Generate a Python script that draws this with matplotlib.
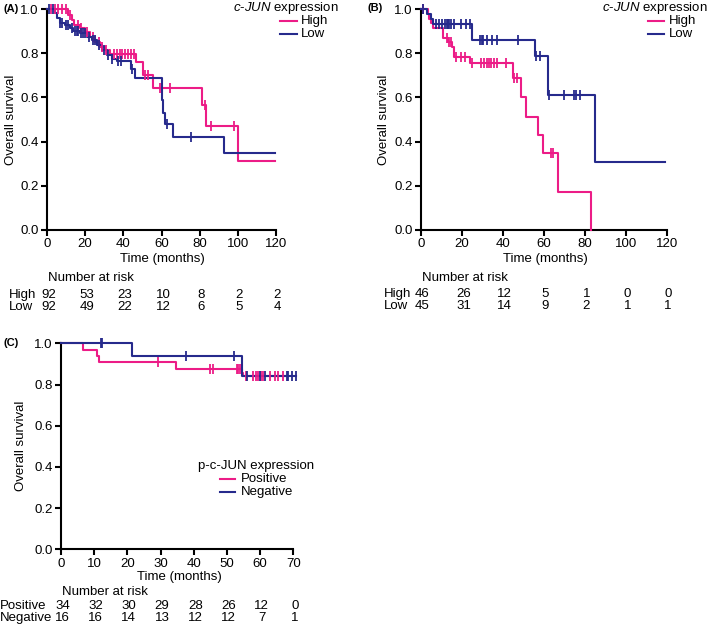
import numpy as np
import matplotlib
matplotlib.use("Agg")
import matplotlib.pyplot as plt
from matplotlib.lines import Line2D
from matplotlib import transforms

plt.rcParams['font.family'] = ['Liberation Sans', 'DejaVu Sans']
plt.rcParams['mathtext.fontset'] = 'custom'
plt.rcParams['mathtext.it'] = 'Liberation Sans:italic'
plt.rcParams['mathtext.rm'] = 'Liberation Sans'

PINK = '#EC1C87'
BLUE = '#262A8C'
FS = 9.5

# ---- Panel A: c-JUN expression (High / Low) ----
a_high_t = [0, 11.2, 12.9, 14.1, 17.3, 19.9, 22.5, 25.1, 27.8, 30.4, 33.0, 46.6, 50.4, 55.4, 81.0, 83.2, 100.0, 119.5]
a_high_s = [1.0, 0.973, 0.95, 0.927, 0.912, 0.897, 0.874, 0.85, 0.827, 0.814, 0.795, 0.76, 0.70, 0.644, 0.564, 0.47, 0.31, 0.31]
a_high_c = [2, 4, 6, 8, 10, 12, 16, 18, 21, 24, 27, 29, 31, 35, 36.5, 38, 39.5, 41, 42.5, 44, 45.5,
            51.5, 53, 59, 64.5, 82.7, 86, 98]
a_low_t = [0, 4.2, 5.4, 6.8, 9.4, 12.0, 13.8, 17.3, 20.8, 23.4, 26.0, 28.6, 31.2, 33.9, 36.5, 43.8, 46.0, 60.0, 61.0, 62.0, 65.8, 92.6, 119.5]
a_low_s = [1.0, 0.98, 0.96, 0.936, 0.927, 0.915, 0.9, 0.89, 0.874, 0.86, 0.836, 0.814, 0.79, 0.776, 0.764, 0.73, 0.69, 0.586, 0.53, 0.48, 0.42, 0.35, 0.35]
a_low_c = [1, 3, 7, 8, 10, 11, 13, 14.5, 15.5, 16.5, 18, 19, 20, 22, 24, 25, 27, 30, 32, 34, 37, 39, 44.5, 63, 75.7]
a_months = [0, 20, 40, 60, 80, 100, 120]
a_risk_high = [92, 53, 23, 10, 8, 2, 2]
a_risk_low = [92, 49, 22, 12, 6, 5, 4]

# ---- Panel B: c-JUN expression (High / Low) ----
b_high_t = [0, 3.2, 3.9, 4.9, 6.0, 10.9, 13.3, 14.9, 16.2, 23.9, 45.0, 48.8, 51.2, 57.2, 59.7, 67.0, 82.9, 83.2]
b_high_s = [1.0, 0.978, 0.957, 0.935, 0.913, 0.867, 0.852, 0.83, 0.781, 0.754, 0.686, 0.60, 0.513, 0.43, 0.347, 0.173, 0.0, 0.0]
b_high_c = [1, 12.5, 13.8, 14.5, 17.3, 19.4, 21.4, 25.1, 29.1, 30.8, 32.1, 33.2, 34.4, 35.7, 37.0, 41.3, 45.6, 46.7, 63.4, 64.5]
b_low_t = [0, 2.8, 4.9, 6.0, 24.7, 55.6, 61.8, 85.2, 119.0]
b_low_s = [1.0, 0.978, 0.956, 0.933, 0.859, 0.786, 0.612, 0.308, 0.308]
b_low_c = [1, 7.5, 9, 10.5, 11.5, 12.5, 13, 13.5, 14.5, 16, 19.5, 22, 24, 28.8, 29.6, 30.2, 32, 34.5, 36.9, 47.3,
           56.4, 58, 62.4, 69.8, 74.6, 75.9, 77.6]
b_months = [0, 20, 40, 60, 80, 100, 120]
b_risk_high = [46, 26, 12, 5, 1, 0, 0]
b_risk_low = [45, 31, 14, 9, 2, 1, 1]

# ---- Panel C: p-c-JUN expression (Positive / Negative) ----
c_pos_t = [0, 6.5, 10.7, 11.4, 34.8, 54.6, 54.9, 67.5]
c_pos_s = [1.0, 0.967, 0.94, 0.908, 0.875, 0.854, 0.843, 0.843]
c_pos_c = [29.3, 45.0, 45.7, 52.9, 53.4, 53.9, 55.7, 57.9, 58.7, 59.4, 60.2, 61.0, 63.0, 64.5, 65.5, 67.0]
c_neg_t = [0, 21.5, 54.4, 70.8]
c_neg_s = [1.0, 0.9375, 0.843, 0.843]
c_neg_c = [12.0, 12.4, 37.6, 52.2, 55.9, 59.9, 61.4, 68.0, 68.5, 69.5, 70.8]
c_months = [0, 10, 20, 30, 40, 50, 60, 70]
c_risk_pos = [34, 32, 30, 29, 28, 26, 12, 0]
c_risk_neg = [16, 16, 14, 13, 12, 12, 7, 1]

W, H = 709, 627
fig = plt.figure(figsize=(W / 100, H / 100), dpi=100)


def fx(px):
    return px / W


def fy(py):
    return 1 - py / H


def km(ax, t, s, cens, color):
    t = np.asarray(t)
    s = np.asarray(s)
    ax.step(t, s, where='post', color=color, lw=1.5, clip_on=False, zorder=3)
    idx = np.searchsorted(t, cens, side='right') - 1
    ax.plot(cens, s[idx], linestyle='none', marker='|', markersize=7, mew=1.3,
            color=color, clip_on=False, zorder=4)


def style(ax, xmax, xticks):
    ax.set_xlim(0, xmax)
    ax.set_ylim(0, 1)
    ax.set_xticks(xticks)
    ax.set_yticks(np.arange(0, 1.01, 0.2))
    ax.set_yticklabels([f'{v:.1f}' for v in np.arange(0, 1.01, 0.2)])
    for side in ('top', 'right'):
        ax.spines[side].set_visible(False)
    for side in ('left', 'bottom'):
        ax.spines[side].set_linewidth(1.5)
    ax.tick_params(direction='out', length=4, width=1.5, labelsize=FS, pad=2)


def legend(x0, x1, xt, ytitle, title, names, colors):
    fig.text(fx(xt[0]), fy(ytitle), title, fontsize=FS, ha='left', va='center')
    for k, (nm, col) in enumerate(zip(names, colors)):
        y = ytitle + 13 * (k + 1)
        fig.add_artist(Line2D([fx(x0), fx(x1)], [fy(y), fy(y)], color=col, lw=1.5,
                              transform=fig.transFigure))
        fig.text(fx(xt[1]), fy(y), nm, fontsize=FS, ha='left', va='center')


def risk_table(ax, months, rows, labels, xlab, y_head, ys, shift=1.5):
    # numbers sit a touch right of the tick, as in the original
    tr = transforms.blended_transform_factory(ax.transData, fig.transFigure)
    tr = tr + transforms.ScaledTranslation(shift / 100, 0, fig.dpi_scale_trans)
    fig.text(ax.get_position().x0 + 0.002, fy(y_head), 'Number at risk', fontsize=FS,
             ha='left', va='center')
    for vals, lab, y in zip(rows, labels, ys):
        fig.text(fx(xlab), fy(y), lab, fontsize=FS, ha='left', va='center')
        for m, v in zip(months, vals):
            ax.text(m, fy(y), str(v), transform=tr, fontsize=FS, ha='center', va='center',
                    clip_on=False)


# Panel A
axA = fig.add_axes([fx(47), fy(230), fx(276) - fx(47), fy(9) - fy(230)])
km(axA, a_high_t, a_high_s, a_high_c, PINK)
km(axA, a_low_t, a_low_s, a_low_c, BLUE)
style(axA, 120, a_months)
fig.text(fx(162), fy(259), 'Time (months)', fontsize=FS, ha='center', va='center')
fig.text(fx(11), fy(120), 'Overall survival', fontsize=FS, rotation=90, ha='center', va='center')
fig.text(fx(3), fy(9), '(A)', fontsize=8, fontweight='bold', ha='left', va='center')
legend(280, 297, (233, 301), 8, r'$\it{c}$-$\it{JUN}$ expression', ['High', 'Low'], [PINK, BLUE])
risk_table(axA, a_months, [a_risk_high, a_risk_low], ['High', 'Low'], 9, 278, [295, 307])

# Panel B
axB = fig.add_axes([fx(421), fy(230), fx(666.7) - fx(421), fy(9) - fy(230)])
km(axB, b_high_t, b_high_s, b_high_c, PINK)
km(axB, b_low_t, b_low_s, b_low_c, BLUE)
style(axB, 120, b_months)
fig.text(fx(545), fy(259), 'Time (months)', fontsize=FS, ha='center', va='center')
fig.text(fx(384), fy(120), 'Overall survival', fontsize=FS, rotation=90, ha='center', va='center')
fig.text(fx(368), fy(8), '(B)', fontsize=8, fontweight='bold', ha='left', va='center')
legend(648, 664, (602, 669), 8, r'$\it{c}$-$\it{JUN}$ expression', ['High', 'Low'], [PINK, BLUE])
risk_table(axB, b_months, [b_risk_high, b_risk_low], ['High', 'Low'], 384, 278, [294, 306])

# Panel C
axC = fig.add_axes([fx(61), fy(549.3), fx(293.3) - fx(61), fy(343.3) - fy(549.3)])
km(axC, c_pos_t, c_pos_s, c_pos_c, PINK)
km(axC, c_neg_t, c_neg_s, c_neg_c, BLUE)
style(axC, 70, c_months)
fig.text(fx(179), fy(577), 'Time (months)', fontsize=FS, ha='center', va='center')
fig.text(fx(21), fy(446), 'Overall survival', fontsize=FS, rotation=90, ha='center', va='center')
fig.text(fx(3), fy(343), '(C)', fontsize=8, fontweight='bold', ha='left', va='center')
legend(220, 235, (198, 241), 466, 'p-c-JUN expression', ['Positive', 'Negative'], [PINK, BLUE])
risk_table(axC, c_months, [c_risk_pos, c_risk_neg], ['Positive', 'Negative'], 0, 592, [606, 618])

fig.savefig('out.png', dpi=100)
